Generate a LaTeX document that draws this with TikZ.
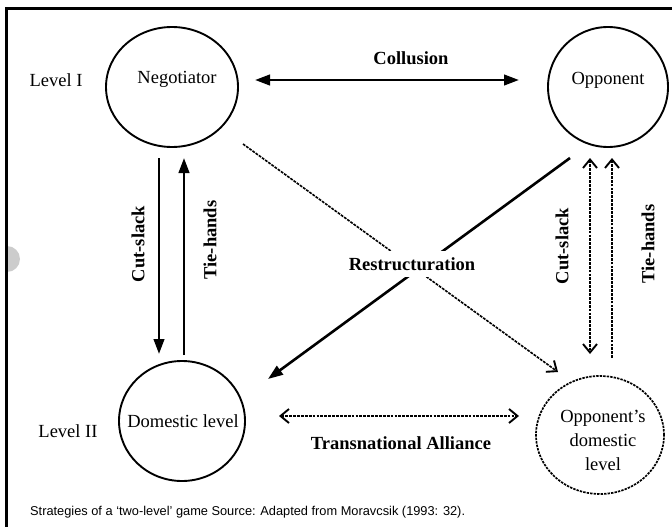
\documentclass[tikz,border=0pt]{standalone}
\usepackage{fontspec}
\setmainfont{Liberation Serif}
\newfontfamily\capfont{Liberation Sans}
\usetikzlibrary{arrows.meta,shapes.geometric}
\tikzset{
  actor/.style={draw, ellipse, line width=1.9pt, inner sep=0pt},
  dashedactor/.style={actor, line width=1.7pt, dash pattern=on 2.4pt off 1.1pt},
  lbl/.style={font=\fontsize{18.5}{24}\selectfont, inner sep=0pt, align=center},
  blbl/.style={font=\fontsize{18.5}{24}\selectfont\bfseries, inner sep=0pt},
  solidarrow/.style={line width=2.6pt},
  dasharrow/.style={line width=1.6pt, dash pattern=on 2.8pt off 1.1pt},
  fullhead/.tip={Triangle[length=15pt,width=10.5pt]},
  openhead/.tip={Straight Barb[length=8.5pt,width=14pt,line width=1.9pt]},
}
\begin{document}
\begin{tikzpicture}[x=1pt,y=-1pt]
\useasboundingbox (0,0) rectangle (672,527);
% grey marker at left
\begin{scope}
  \clip (7,240) rectangle (30,280);
  \fill[gray!40] (7,259) circle[radius=13pt];
\end{scope}
% frame
\draw[line width=2.6pt] (6.5,527) -- (6.5,8.5) -- (672,8.5);

% actors
\node[actor, minimum width=132pt, minimum height=120pt] (neg) at (172,87) {};
\node[actor, minimum width=120pt, minimum height=120pt] (opp) at (608,87) {};
\node[actor, minimum width=126pt, minimum height=120pt] (dom) at (182,421) {};
\node[dashedactor, minimum width=128pt, minimum height=118pt] (odom) at (600,435) {};

\node[lbl] (negt) at (177,79) {Negotiator};
\node[lbl] (oppt) at (608,80) {Opponent};
\node[lbl] (domt) at (183,421) {Domestic level};
\node[lbl] (odomt) at (603,440) {Opponent’s\\domestic\\level};

\node[lbl] (lev1) at (56,80) {Level I};
\node[lbl] (lev2) at (68,431) {Level II};

% connector end points
\coordinate (colL) at (255,80);
\coordinate (colR) at (519,80);
\coordinate (csT) at (159,158);
\coordinate (csB) at (159,354);
\coordinate (thB) at (184,355);
\coordinate (thT) at (184,158);
\coordinate (rsA) at (570,158);
\coordinate (rsB) at (268,379);
\coordinate (rdA) at (243,144);
\coordinate (rdB) at (558,372);
\coordinate (taL) at (279,416);
\coordinate (taR) at (519,416);
\coordinate (ocsT) at (590,158);
\coordinate (ocsB) at (590,354);
\coordinate (othB) at (612,358);
\coordinate (othT) at (612,158);

% connectors
\draw[solidarrow, fullhead-fullhead] (colL) -- (colR);
\draw[solidarrow, -fullhead] (csT) -- (csB);
\draw[solidarrow, -fullhead] (thB) -- (thT);
\draw[solidarrow, -fullhead] (rsA) -- (rsB);
\draw[dasharrow, -openhead] (rdA) -- (rdB);
\draw[dasharrow, openhead-openhead] (taL) -- (taR);
\draw[dasharrow, openhead-openhead] (ocsT) -- (ocsB);
\draw[dasharrow, -openhead] (othB) -- (othT);

% labels
\node[blbl] (coll) at (411,58) {Collusion};
\node[blbl, fill=white, inner xsep=3pt, inner ysep=6pt] (restr) at (412,264) {Restructuration};
\node[blbl] (trans) at (401,443) {Transnational Alliance};
\node[blbl, rotate=90] (cs1) at (138,244) {Cut-slack};
\node[blbl, rotate=90] (th1) at (210,240) {Tie-hands};
\node[blbl, rotate=90] (cs2) at (562,246) {Cut-slack};
\node[blbl, rotate=90] (th2) at (648,244) {Tie-hands};

% caption
\node[font=\capfont\fontsize{12.8}{15}\selectfont, anchor=west, inner sep=0pt] (cap) at (30,512)
  {Strategies of a ‘two-level’ game Source: Adapted from Moravcsik (1993: 32).};
\end{tikzpicture}
\end{document}
